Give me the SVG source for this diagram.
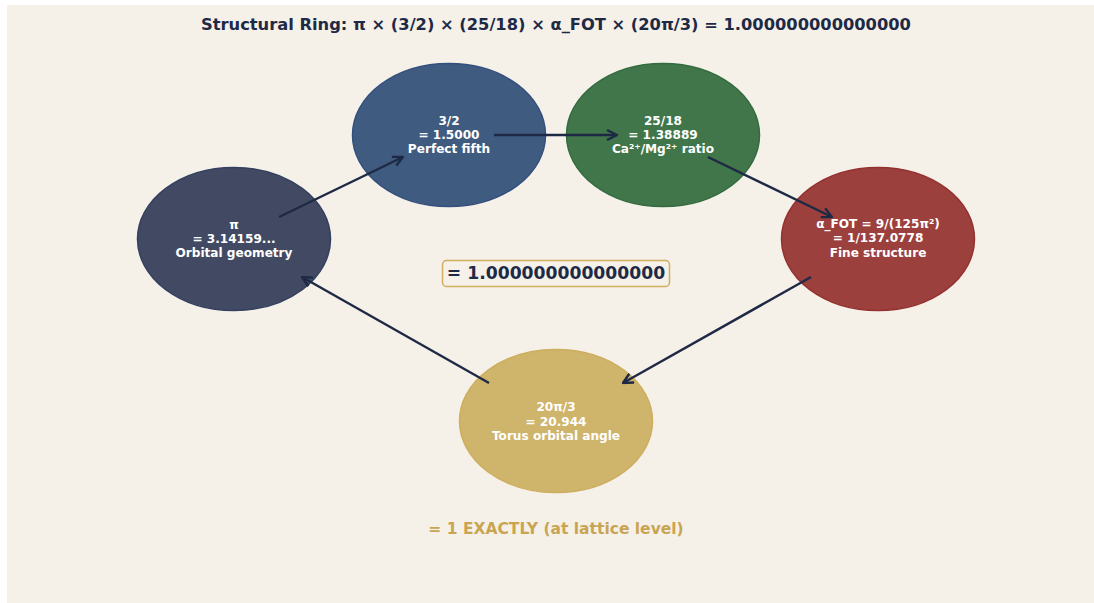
<svg xmlns="http://www.w3.org/2000/svg" width="1094" height="603" viewBox="0 0 1094 603">
<defs>
<style>
text{font-family:"DejaVu Sans",sans-serif;font-weight:bold;text-anchor:middle}
.lbl{font-size:12.1px;fill:#ffffff}
.edge{stroke:#1E2A45;stroke-width:2.4;fill:none;marker-end:url(#ah)}
</style>
<marker id="ah" viewBox="0 0 12 12" refX="11" refY="6" markerWidth="12" markerHeight="12" markerUnits="userSpaceOnUse" orient="auto">
<path d="M1,1 L11,6 L1,11" fill="none" stroke="#1E2A45" stroke-width="2.4"/>
</marker>
</defs>
<rect x="0" y="0" width="1094" height="603" fill="#ffffff"/>
<rect x="7" y="5" width="1087" height="598" fill="#F5F0E8"/>
<text x="556" y="30" style="font-size:16.3px;fill:#1E2A45">Structural Ring: π × (3/2) × (25/18) × α_FOT × (20π/3) = 1.000000000000000</text>
<g id="node-pi">
<ellipse cx="234" cy="239" rx="96.5" ry="71.5" fill="#414A62" stroke="#344060" stroke-width="1.5"/>
<text class="lbl" x="234" y="229">π</text>
<text class="lbl" x="234" y="243">= 3.14159...</text>
<text class="lbl" x="234" y="257">Orbital geometry</text>
</g>
<g id="node-fifth">
<ellipse cx="449" cy="135" rx="96.5" ry="71.5" fill="#405B80" stroke="#344F7E" stroke-width="1.5"/>
<text class="lbl" x="449" y="125">3/2</text>
<text class="lbl" x="449" y="139">= 1.5000</text>
<text class="lbl" x="449" y="153">Perfect fifth</text>
</g>
<g id="node-ratio">
<ellipse cx="663" cy="135" rx="96.5" ry="71.5" fill="#41764A" stroke="#336B3F" stroke-width="1.5"/>
<text class="lbl" x="663" y="125">25/18</text>
<text class="lbl" x="663" y="139">= 1.38889</text>
<text class="lbl" x="663" y="153">Ca²⁺/Mg²⁺ ratio</text>
</g>
<g id="node-alpha">
<ellipse cx="878" cy="239" rx="96.5" ry="71.5" fill="#9C403D" stroke="#94312F" stroke-width="1.5"/>
<text class="lbl" x="878" y="228">α_FOT = 9/(125π²)</text>
<text class="lbl" x="878" y="242">= 1/137.0778</text>
<text class="lbl" x="878" y="257">Fine structure</text>
</g>
<g id="node-torus">
<ellipse cx="556" cy="421" rx="96.5" ry="71.5" fill="#CFB46B" stroke="#CDAE5E" stroke-width="1.5"/>
<text class="lbl" x="556" y="411">20π/3</text>
<text class="lbl" x="556" y="426">= 20.944</text>
<text class="lbl" x="556" y="440">Torus orbital angle</text>
</g>
<g id="connectors">
<path class="edge" d="M279,217 L403,157"/>
<path class="edge" d="M494,135 L617,135"/>
<path class="edge" d="M708,157 L832,217"/>
<path class="edge" d="M811,277 L623,383"/>
<path class="edge" d="M489,383 L302,277"/>
</g>
<g id="center">
<rect x="442.5" y="260.5" width="227" height="26" rx="4" fill="#F5F0E8" stroke="#D1AE5E" stroke-width="1.5"/>
<text x="556" y="279" style="font-size:17.2px;fill:#1E2A45">= 1.000000000000000</text>
</g>
<text x="556" y="534" style="font-size:15.5px;fill:#C9A552">= 1 EXACTLY (at lattice level)</text>
</svg>
